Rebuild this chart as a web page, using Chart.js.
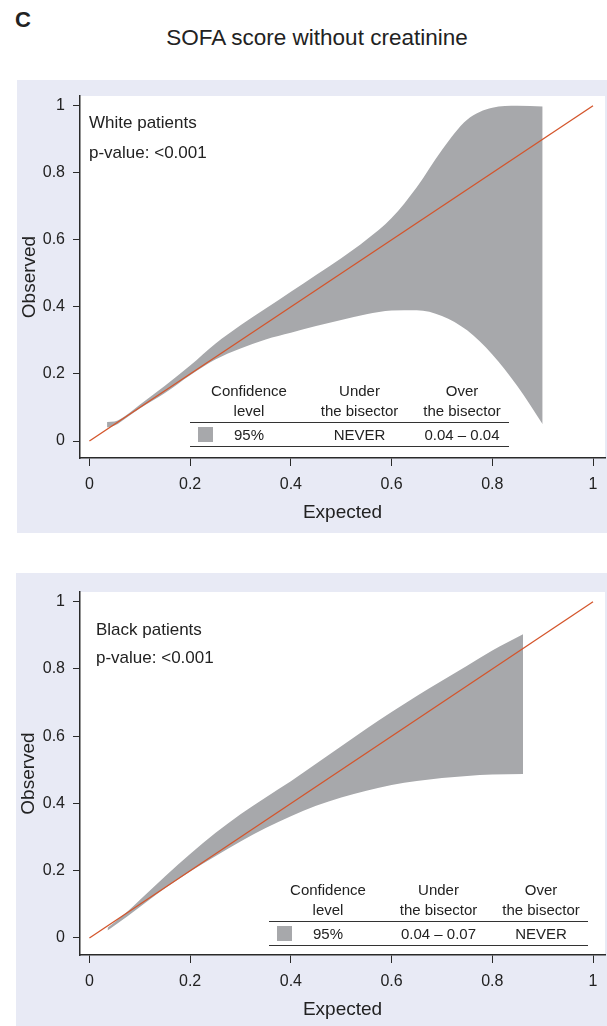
<!DOCTYPE html>
<html><head><meta charset="utf-8">
<script src="https://cdn.jsdelivr.net/npm/chart.js@4/dist/chart.umd.min.js"></script>
<style>
html,body{margin:0;padding:0;background:#fff;width:607px;height:1026px;overflow:hidden;font-family:"Liberation Sans",Arial,Helvetica,sans-serif;color:#222;}
.abs{position:absolute;white-space:nowrap;}
canvas{position:absolute;background:#e8eaf5;}
</style></head><body>
<div class="abs" style="left:15px;top:7px;font-size:22px;font-weight:bold;line-height:26px;">C</div>
<div class="abs" style="left:317px;top:24px;font-size:22.5px;line-height:27px;transform:translateX(-50%);">SOFA score without creatinine</div>
<canvas id="c1" width="590" height="453" style="left:17px;top:80px"></canvas>
<canvas id="c2" width="591" height="453" style="left:16px;top:573px"></canvas>
<script>
// ---- data ----
const xTicks = [0, 0.2, 0.4, 0.6, 0.8, 1];
const xTickLabels = ['0', '0.2', '0.4', '0.6', '0.8', '1'];
const yTicks = [0, 0.2, 0.4, 0.6, 0.8, 1];
const yTickLabels = ['0', '0.2', '0.4', '0.6', '0.8', '1'];
const bisectorX = [0, 1];
const bisectorY = [0, 1];

const whiteX     = [0.035, 0.05, 0.075, 0.1, 0.15, 0.2, 0.25, 0.3, 0.35, 0.4, 0.45, 0.5, 0.55, 0.6, 0.65, 0.7, 0.75, 0.8, 0.85, 0.9];
const whiteUpper = [0.057, 0.058, 0.079, 0.108, 0.165, 0.225, 0.29, 0.345, 0.395, 0.445, 0.495, 0.545, 0.60, 0.665, 0.757, 0.868, 0.958, 0.994, 1.0, 0.998];
const whiteLower = [0.040, 0.046, 0.071, 0.097, 0.143, 0.196, 0.243, 0.276, 0.303, 0.323, 0.343, 0.361, 0.378, 0.389, 0.390, 0.373, 0.330, 0.258, 0.163, 0.050];

const blackX     = [0.036, 0.05, 0.075, 0.1, 0.15, 0.2, 0.25, 0.3, 0.35, 0.4, 0.45, 0.5, 0.55, 0.6, 0.65, 0.7, 0.75, 0.8, 0.861];
const blackUpper = [0.030, 0.047, 0.078, 0.113, 0.183, 0.25, 0.312, 0.368, 0.418, 0.466, 0.518, 0.57, 0.622, 0.672, 0.72, 0.765, 0.81, 0.855, 0.903];
const blackLower = [0.022, 0.037, 0.064, 0.092, 0.148, 0.198, 0.243, 0.287, 0.327, 0.362, 0.393, 0.418, 0.438, 0.455, 0.467, 0.476, 0.482, 0.486, 0.488];

const tableHeaders = [['Confidence', 'level'], ['Under', 'the bisector'], ['Over', 'the bisector']];
const whiteRow = ['95%', 'NEVER', '0.04 \u2013 0.04'];
const blackRow = ['95%', '0.04 \u2013 0.07', 'NEVER'];
const groupLabels = ['White patients', 'Black patients'];
const pValueLabels = ['p-value: <0.001', 'p-value: <0.001'];

// ---- styles ----
const FONT = '"Liberation Sans", Arial, Helvetica, sans-serif';
const RED = '#d4552b';
const GRAY = '#a7a8ab';
const AXIS = '#2a2a2a';
const TEXT = '#222';
const XMIN = -0.0187, XMAX = 1.0238, YMIN = -0.0507, YMAX = 1.029;

function addText(txt, x, cy, size, align) {
  const d = document.createElement('div');
  d.className = 'abs';
  const lh = Math.round(size * 1.2);
  d.style.fontSize = size + 'px';
  d.style.lineHeight = lh + 'px';
  d.style.top = (cy - lh / 2) + 'px';
  d.style.left = x + 'px';
  if (align === 'center') d.style.transform = 'translateX(-50%)';
  d.textContent = txt;
  document.body.appendChild(d);
}
function addRect(l, t, w, h, color) {
  const d = document.createElement('div');
  d.className = 'abs';
  Object.assign(d.style, {left: l + 'px', top: t + 'px', width: w + 'px', height: h + 'px', background: color});
  document.body.appendChild(d);
}
function addTable(left, ruleY, row) {
  const colC = [59, 169.5, 272];
  const W = 318.5;
  tableHeaders.forEach((h, i) => {
    addText(h[0], left + colC[i], ruleY - 32, 15, 'center');
    addText(h[1], left + colC[i], ruleY - 12, 15, 'center');
    addText(row[i], left + colC[i], ruleY + 12, 15, 'center');
  });
  addRect(left, ruleY - 0.75, W, 1.5, '#333');
  addRect(left, ruleY + 23.25, W, 1.5, '#333');
  addRect(left + 7.5, ruleY + 4.5, 15, 15, GRAY);
}

const whiteBg = {
  id: 'whiteBg',
  beforeDraw(chart) {
    const {ctx, chartArea: a} = chart;
    ctx.save();
    ctx.fillStyle = '#fff';
    ctx.fillRect(a.left, a.top, a.right - a.left, a.bottom - a.top);
    ctx.restore();
  }
};

function makeChart(id, p) {
  return new Chart(document.getElementById(id), {
    type: 'line',
    data: {
      datasets: [
        { data: bisectorX.map((x, i) => ({x, y: bisectorY[i]})), borderColor: RED, borderWidth: 1.3, pointRadius: 0, fill: false, tension: 0 },
        { data: p.x.map((x, i) => ({x, y: p.lower[i]})), borderColor: 'rgba(0,0,0,0)', borderWidth: 0, pointRadius: 0, fill: false, cubicInterpolationMode: 'monotone' },
        { data: p.x.map((x, i) => ({x, y: p.upper[i]})), borderColor: 'rgba(0,0,0,0)', borderWidth: 0, backgroundColor: GRAY, pointRadius: 0, fill: 1, cubicInterpolationMode: 'monotone' }
      ]
    },
    options: {
      responsive: false, animation: false, events: [],
      layout: { padding: { top: p.padTop, right: 2, left: 0, bottom: 0 } },
      plugins: { legend: {display: false}, tooltip: {enabled: false}, title: {display: false} },
      scales: {
        x: {
          type: 'linear', min: XMIN, max: XMAX,
          afterBuildTicks: s => { s.ticks = xTicks.map(v => ({value: v})); },
          afterFit: s => { s.height = p.xH; s.paddingLeft = 0; s.paddingRight = 0; },
          grid: { drawOnChartArea: false, drawTicks: true, tickLength: 8, color: AXIS, lineWidth: 1 },
          border: { display: true, color: AXIS, width: 1.5 },
          ticks: { padding: 9, color: TEXT, font: {size: 16, family: FONT}, maxRotation: 0, autoSkip: false, callback: (v, i) => xTickLabels[i] },
          title: { display: true, text: 'Expected', color: TEXT, font: {size: 19, family: FONT}, padding: {top: 0, bottom: p.titlePad} }
        },
        y: {
          type: 'linear', min: YMIN, max: YMAX,
          afterBuildTicks: s => { s.ticks = yTicks.map(v => ({value: v})); },
          afterFit: s => { s.width = p.yW; s.paddingTop = 0; s.paddingBottom = 0; },
          grid: { drawOnChartArea: false, drawTicks: true, tickLength: 7, color: AXIS, lineWidth: 1 },
          border: { display: true, color: AXIS, width: 1.5 },
          ticks: { padding: 8, color: TEXT, font: {size: 16, family: FONT}, autoSkip: false, callback: (v, i) => yTickLabels[i] },
          title: { display: true, text: 'Observed', color: TEXT, font: {size: 19, family: FONT}, padding: {top: 1, bottom: 0} }
        }
      }
    },
    plugins: [whiteBg]
  });
}

makeChart('c1', { x: whiteX, upper: whiteUpper, lower: whiteLower, padTop: 16, xH: 75, yW: 63, titlePad: 8.6 });
makeChart('c2', { x: blackX, upper: blackUpper, lower: blackLower, padTop: 19, xH: 71, yW: 64, titlePad: 4.6 });

addText(groupLabels[0], 89, 123, 17, 'left');
addText(pValueLabels[0], 89, 153, 17, 'left');
addText(groupLabels[1], 96, 629.5, 17, 'left');
addText(pValueLabels[1], 96, 658, 17, 'left');

addTable(190, 422.7, whiteRow);
addTable(269, 921.7, blackRow);
</script>
</body></html>
